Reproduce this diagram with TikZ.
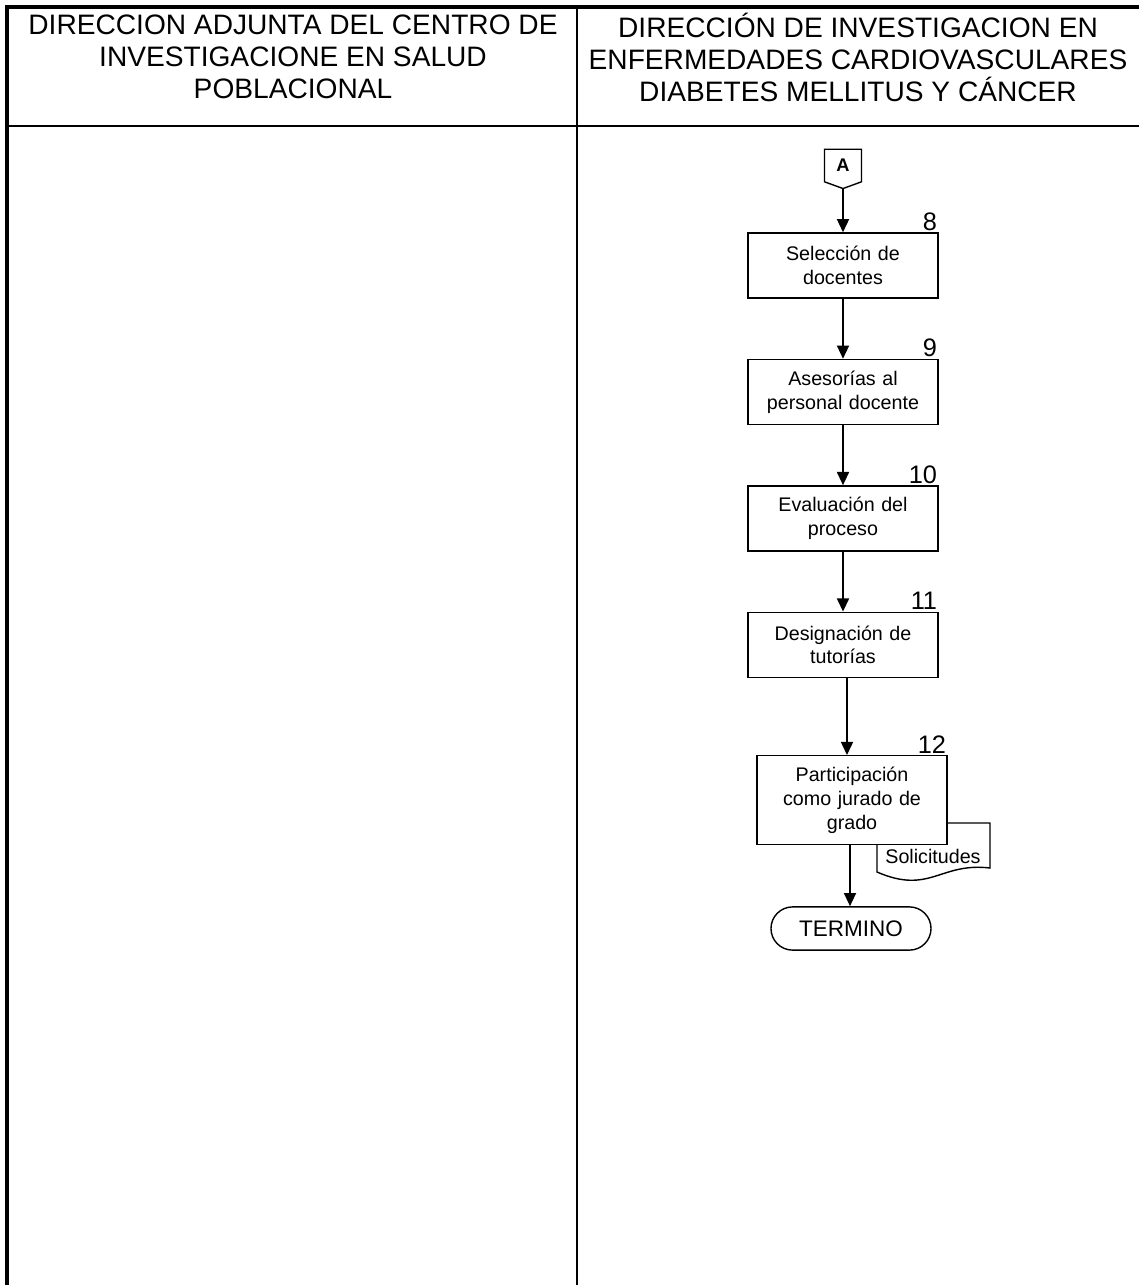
\documentclass[tikz,border=0pt]{standalone}
\usepackage{fontspec}
\setmainfont{Liberation Sans}
\usetikzlibrary{positioning, shapes.symbols, arrows.meta}

\begin{document}
\begin{tikzpicture}[x=0.025cm, y=-0.025cm,
    proceso/.style={rectangle, draw, line width=1pt, fill=white, minimum width=4.75cm,
                    minimum height=1.625cm, text width=4.5cm, align=center,
                    font=\fontsize{14}{17}\selectfont, inner sep=2pt},
    numero/.style={anchor=south east, font=\fontsize{18}{18}\selectfont, inner sep=1pt},
    flecha/.style={draw, line width=1.3pt, -{Triangle[length=0.33cm, width=0.3cm]}},
    encabezado/.style={align=center, font=\fontsize{20}{22.8}\selectfont},
    conector/.style={signal, signal to=south, signal pointer angle=140, draw, line width=1pt,
                     minimum width=0.925cm, minimum height=0.875cm, inner sep=0pt,
                     font=\bfseries\fontsize{13}{13}\selectfont},
    termino/.style={rectangle, rounded corners=0.54cm, draw, line width=1pt, minimum width=4cm,
                    minimum height=1.08cm, font=\fontsize{16}{16}\selectfont}
]
\useasboundingbox (0,0) rectangle (1139,1285);

% marco y carriles
\draw[line width=3.4pt] (7,1285) -- (7,7) -- (1139,7);
\draw[line width=1.4pt] (9,126) -- (1139,126);
\draw[line width=2pt] (577,7) -- (577,1285);

\node[encabezado] (carril1) at (293,57) {DIRECCION ADJUNTA DEL CENTRO DE\\INVESTIGACIONE EN SALUD\\POBLACIONAL};
\node[encabezado] (carril2) at (858,57) {DIRECCIÓN DE INVESTIGACION EN\\ENFERMEDADES CARDIOVASCULARES\\DIABETES MELLITUS Y CÁNCER};

% flujo
\node[conector] (conA) at (843,165.5) {A};
\node[proceso, label={[numero]north east:8}] (sel) at (843,265.5) {Selección de\\docentes};
\node[proceso, label={[numero]north east:9}, below=1.5cm of sel] (ases) {Asesorías al\\personal docente};
\node[proceso, label={[numero]north east:10}, below=1.5cm of ases] (eval) {Evaluación del\\proceso};
\node[proceso, label={[numero]north east:11}, below=1.5cm of eval] (desig) {Designación de\\tutorías};

% documento
\draw[line width=1pt, fill=white] (877,823) -- (990,823) -- (990,868)
    .. controls (940,862) and (930,895) .. (877,872) -- cycle;
\node[font=\fontsize{14}{14}\selectfont] (solic) at (933,856) {Solicitudes};

\node[proceso, minimum height=2.225cm, label={[numero]north east:12}, below=1.925cm of desig, xshift=0.225cm] (part) {Participación\\como jurado de\\grado};
\node[termino] (fin) at (851,928.5) {TERMINO};

\draw[flecha] (conA.south) -- (sel.north);
\draw[flecha] (sel) -- (ases);
\draw[flecha] (ases) -- (eval);
\draw[flecha] (eval) -- (desig);
\draw[flecha] ([xshift=0.1cm]desig.south) -- ([xshift=0.1cm]desig.south |- part.north);
\draw[flecha] ([xshift=-0.05cm]part.south) -- ([xshift=-0.05cm]part.south |- fin.north);
\end{tikzpicture}
\end{document}
